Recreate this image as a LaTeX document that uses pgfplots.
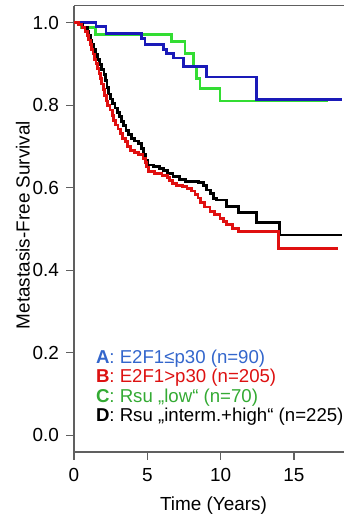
\documentclass[border=0pt]{standalone}
\usepackage{fontspec}
\setmainfont{Liberation Sans}
\usepackage{pgfplots}
\pgfplotsset{compat=1.18}
\definecolor{lineblue}{HTML}{1A1AB8}
\definecolor{linered}{HTML}{E01010}
\definecolor{linegreen}{HTML}{33DD33}
\definecolor{textblue}{HTML}{3366CC}
\definecolor{textred}{HTML}{DD1111}
\definecolor{textgreen}{HTML}{33AA33}
\definecolor{axisgray}{HTML}{606060}
\begin{document}
\begin{tikzpicture}
\begin{axis}[
  scale only axis, width=270bp, height=446.3bp,
  xmin=0, xmax=18.41, ymin=-0.041, ymax=1.041,
  axis x line=box, axis y line=left,
  axis line style={-, draw=axisgray, line width=1.1bp},
  xtick={0,5,10,15}, ytick={0,0.2,0.4,0.6,0.8,1},
  xtick pos=bottom, ytick pos=left, tick align=outside,
  major tick length=7.5bp,
  tick style={draw=axisgray, line width=1.1bp},
  /pgf/number format/assume math mode=true,
  yticklabel style={/pgf/number format/fixed, /pgf/number format/fixed zerofill, /pgf/number format/precision=1, xshift=-4bp},
  xticklabel style={yshift=-5.5bp},
  ticklabel style={font=\fontsize{19}{22}\selectfont},
  xlabel={Time (Years)}, ylabel={Metastasis-Free Survival},
  label style={font=\fontsize{19}{22}\selectfont},
  xlabel style={at={(rel axis cs:0.5167,-0.119)}, anchor=center},
  ylabel style={at={(rel axis cs:-0.189,0.5086)}, anchor=center},
  every axis plot/.append style={const plot, line width=2.8bp, mark=none},
  legend style={draw=none, fill=none, inner sep=0pt, outer sep=0pt,
    at={(rel axis cs:0.0815,0.0533)}, anchor=south west, row sep=0pt,
    font=\fontsize{18.7}{19.5}\selectfont,
    nodes={inner sep=0pt, text height=13bp, text depth=6.5bp}},
  legend cell align=left,
]
\addlegendimage{empty legend}
\addlegendimage{empty legend}
\addlegendimage{empty legend}
\addlegendimage{empty legend}
% C: Rsu low (green)
\addplot[linegreen] coordinates {
(0,1.000) (0.52,0.988) (1.45,0.972) (6.66,0.954) (7.57,0.926) (8.13,0.893)
(8.36,0.865) (8.59,0.841) (9.95,0.810) (17.3,0.810)};
% A: E2F1<=p30 (blue)
\addplot[lineblue] coordinates {
(0,1.000) (1.50,0.990) (2.18,0.973) (4.61,0.962) (4.84,0.946) (6.09,0.934)
(6.32,0.926) (6.77,0.914) (7.45,0.893) (9.05,0.868) (12.45,0.814) (18.25,0.814)};
% D: Rsu interm.+high (black)
\addplot[black] coordinates {
(0,1.000) (0.3,0.996) (0.6,0.988) (0.9,0.978) (1.0,0.968) (1.1,0.957)
(1.2,0.946) (1.35,0.934) (1.45,0.922) (1.6,0.910) (1.75,0.898) (1.9,0.887)
(2.05,0.875) (2.15,0.860) (2.25,0.843) (2.35,0.827) (2.5,0.815) (2.65,0.804)
(2.8,0.793) (2.95,0.783) (3.1,0.772) (3.25,0.761) (3.4,0.750) (3.55,0.739)
(3.7,0.728) (3.9,0.720) (4.15,0.713) (4.4,0.707) (4.6,0.695) (4.75,0.680)
(4.9,0.666) (5.0,0.655) (5.4,0.651) (5.85,0.647) (6.1,0.641) (6.4,0.635)
(6.75,0.627) (7.2,0.620) (7.6,0.615) (8.5,0.613) (8.85,0.605) (9.05,0.594)
(9.3,0.585) (9.5,0.574) (9.7,0.570) (10.4,0.554) (11.2,0.539) (12.46,0.515)
(14.0,0.485) (18.25,0.485)};
% B: E2F1>p30 (red)
\addplot[linered] coordinates {
(0,1.000) (0.3,0.996) (0.55,0.988) (0.75,0.979) (0.9,0.968) (1.0,0.958)
(1.1,0.947) (1.2,0.935) (1.3,0.924) (1.4,0.910) (1.5,0.900) (1.6,0.888)
(1.7,0.876) (1.8,0.864) (1.9,0.851) (2.0,0.838) (2.1,0.824) (2.2,0.810)
(2.3,0.800) (2.45,0.788) (2.6,0.775) (2.7,0.762) (2.85,0.752) (3.0,0.742)
(3.15,0.731) (3.3,0.720) (3.5,0.711) (3.65,0.700) (3.85,0.690) (4.1,0.686)
(4.4,0.680) (4.7,0.671) (4.85,0.660) (4.95,0.650) (5.1,0.640) (5.5,0.635)
(6.0,0.630) (6.35,0.625) (6.5,0.618) (6.7,0.610) (7.0,0.606) (7.4,0.603)
(7.7,0.598) (8.0,0.592) (8.25,0.584) (8.45,0.575) (8.6,0.564) (8.9,0.553)
(9.27,0.542) (9.6,0.534) (9.95,0.526) (10.2,0.518) (10.41,0.510) (10.8,0.501)
(11.2,0.493) (13.93,0.453) (18.02,0.453)};
\legend{{\textcolor{textblue}{\textbf{A}: E2F1≤p30 (n=90)}},
        {\textcolor{textred}{\textbf{B}: E2F1>p30 (n=205)}},
        {\textcolor{textgreen}{\textbf{C}: Rsu „low“ (n=70)}},
        {\textcolor{black}{\textbf{D}: Rsu „interm.+high“ (n=225)}}}
\coordinate (bl) at (rel axis cs:0,0);
\end{axis}
\pgfresetboundingbox
\path (bl) ++(-74bp,-64bp) rectangle ++(344bp,516bp);
\end{tikzpicture}
\end{document}
